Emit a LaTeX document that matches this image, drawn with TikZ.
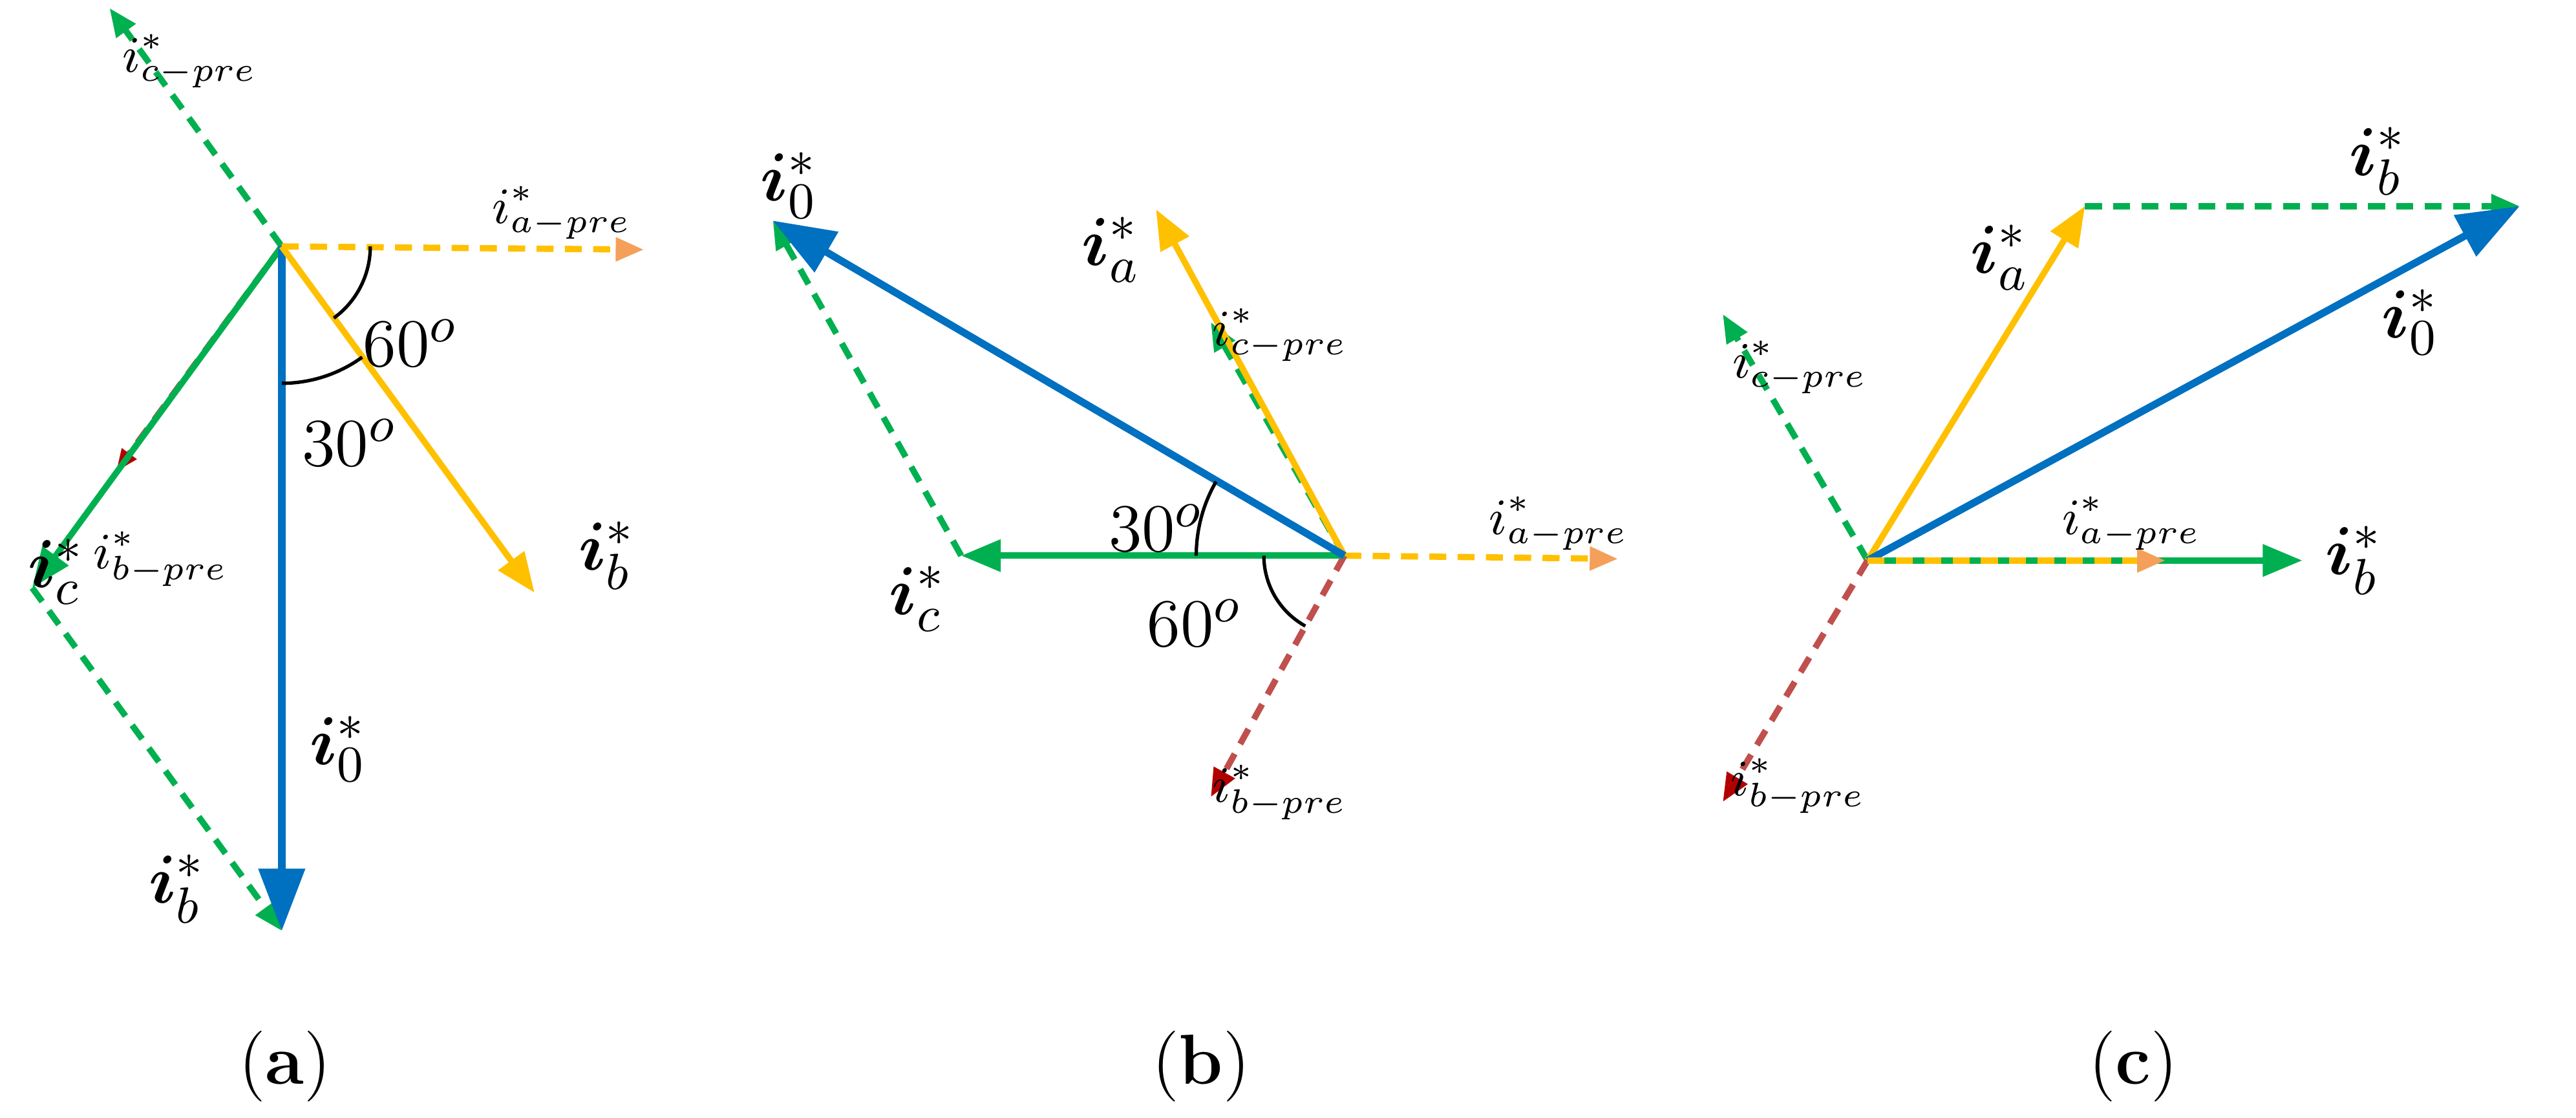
\documentclass[tikz,border=0pt]{standalone}
\usepackage{bm}
\usetikzlibrary{arrows.meta,calc}
\definecolor{gr}{RGB}{0,176,80}
\definecolor{bl}{RGB}{0,112,192}
\definecolor{ye}{RGB}{255,192,0}
\definecolor{rd}{RGB}{192,80,77}
\definecolor{or}{RGB}{244,160,90}
\begin{document}
\begin{tikzpicture}[x=0.01cm,y=-0.01cm,
 sol/.style={line width=1.1pt,-{Triangle[length=7pt,width=5.5pt]}},
 thk/.style={line width=1.3pt,-{Triangle[length=11pt,width=8pt]}},
 dsh/.style={line width=1.1pt,dash pattern=on 3pt off 2pt,-{Triangle[length=5pt,width=4pt]}},
 big/.style={font=\fontsize{12.5}{12.5}\selectfont},
 sm/.style={font=\fontsize{9}{9}\selectfont},
 lab/.style={inner sep=0pt}]
\useasboundingbox (0,0) rectangle (1600,694);
% ---------- (a)
\coordinate (Oa) at (175,153);
\coordinate (ca) at (68,5);
\coordinate (aa) at (400,155);
\coordinate (ica) at (20,365);
\coordinate (iba) at (175,578);
\coordinate (yba) at (332,368);
\coordinate (rba) at (72,293);
\draw[dsh,gr] (Oa) -- (ca);
\draw[dsh,ye,-{Triangle[length=5pt,width=4pt,fill=or,color=or]}] (Oa) -- (aa);
\draw[dsh,rd,-{Triangle[length=4pt,width=3pt,fill=red!70!black,color=red!70!black]}] (Oa) -- (rba);
\draw[sol,gr] (Oa) -- (ica);
\draw[dsh,gr] (ica) -- (iba);
\draw[thk,bl] (Oa) -- (iba);
\draw[sol,ye] (Oa) -- (yba);
\draw[line width=0.6pt] ($(Oa)+(55,0)$) arc[start angle=0,end angle=54,radius=55];
\draw[line width=0.6pt] ($(Oa)+(0,85)$) arc[start angle=90,end angle=54,radius=85];
\node[lab,sm] (la1) at (118,38) {$i_{c-pre}^{*}$};
\node[lab,sm] (la2) at (349,132) {$i_{a-pre}^{*}$};
\node[lab,big] (la3) at (35,355) {$\bm{i}_c^{*}$};
\node[lab,sm] (la4) at (100,347) {$i_{b-pre}^{*}$};
\node[lab,big] (la5) at (110,552) {$\bm{i}_b^{*}$};
\node[lab,big] (la6) at (210,465) {$\bm{i}_0^{*}$};
\node[lab,big] (la7) at (377,345) {$\bm{i}_b^{*}$};
\node[lab,big] (la8) at (255,213) {$60^{o}$};
\node[lab,big] (la9) at (217,275) {$30^{o}$};
\node[big] (ca1) at (177,662) {(\textbf{a})};
% ---------- (b)
\coordinate (Ob) at (835,345);
\coordinate (i0b) at (480,137);
\coordinate (icb) at (597,345);
\coordinate (iab) at (718,130);
\coordinate (cpb) at (752,200);
\coordinate (apb) at (1005,347);
\coordinate (bpb) at (752,495);
\draw[dsh,gr] (icb) -- (i0b);
\draw[dsh,gr] (Ob) -- (cpb);
\draw[dsh,ye,-{Triangle[length=5pt,width=4pt,fill=or,color=or]}] (Ob) -- (apb);
\draw[dsh,rd,-{Triangle[length=5pt,width=4pt,fill=red!70!black,color=red!70!black]}] (Ob) -- (bpb);
\draw[sol,gr] (Ob) -- (icb);
\draw[sol,ye] (Ob) -- (iab);
\draw[thk,bl] (Ob) -- (i0b);
\draw[line width=0.6pt] ($(Ob)+(-92,0)$) arc[start angle=180,end angle=210,radius=92];
\draw[line width=0.6pt] ($(Ob)+(-50,0)$) arc[start angle=180,end angle=119,radius=50];
\node[lab,big] (lb1) at (490,115) {$\bm{i}_0^{*}$};
\node[lab,big] (lb2) at (690,155) {$\bm{i}_a^{*}$};
\node[lab,sm] (lb3) at (795,208) {$i_{c-pre}^{*}$};
\node[lab,sm] (lb4) at (968,325) {$i_{a-pre}^{*}$};
\node[lab,big] (lb5) at (570,372) {$\bm{i}_c^{*}$};
\node[lab,sm] (lb6) at (795,492) {$i_{b-pre}^{*}$};
\node[lab,big] (lb7) at (718,328) {$30^{o}$};
\node[lab,big] (lb8) at (742,387) {$60^{o}$};
\node[big] (ca2) at (746,662) {(\textbf{b})};
% ---------- (c)
\coordinate (Oc) at (1160,348);
\coordinate (iac) at (1295,128);
\coordinate (tip) at (1565,128);
\coordinate (cpc) at (1070,195);
\coordinate (ibc) at (1430,348);
\coordinate (apc) at (1345,348);
\coordinate (bpc) at (1070,498);
\draw[dsh,gr] (iac) -- (tip);
\draw[dsh,gr] (Oc) -- (cpc);
\draw[dsh,rd,-{Triangle[length=5pt,width=4pt,fill=red!70!black,color=red!70!black]}] (Oc) -- (bpc);
\draw[sol,ye] (Oc) -- (iac);
\draw[thk,bl] (Oc) -- (tip);
\draw[sol,gr] (Oc) -- (ibc);
\draw[dsh,ye,-{Triangle[length=5pt,width=4pt,fill=or,color=or]}] (Oc) -- (apc);
\node[lab,big] (lc1) at (1242,160) {$\bm{i}_a^{*}$};
\node[lab,big] (lc2) at (1477,100) {$\bm{i}_b^{*}$};
\node[lab,big] (lc3) at (1497,200) {$\bm{i}_0^{*}$};
\node[lab,sm] (lc4) at (1118,228) {$i_{c-pre}^{*}$};
\node[lab,big] (lc5) at (1462,348) {$\bm{i}_b^{*}$};
\node[lab,sm] (lc6) at (1324,325) {$i_{a-pre}^{*}$};
\node[lab,sm] (lc7) at (1117,488) {$i_{b-pre}^{*}$};
\node[big] (ca3) at (1325,662) {(\textbf{c})};
\end{tikzpicture}
\end{document}
